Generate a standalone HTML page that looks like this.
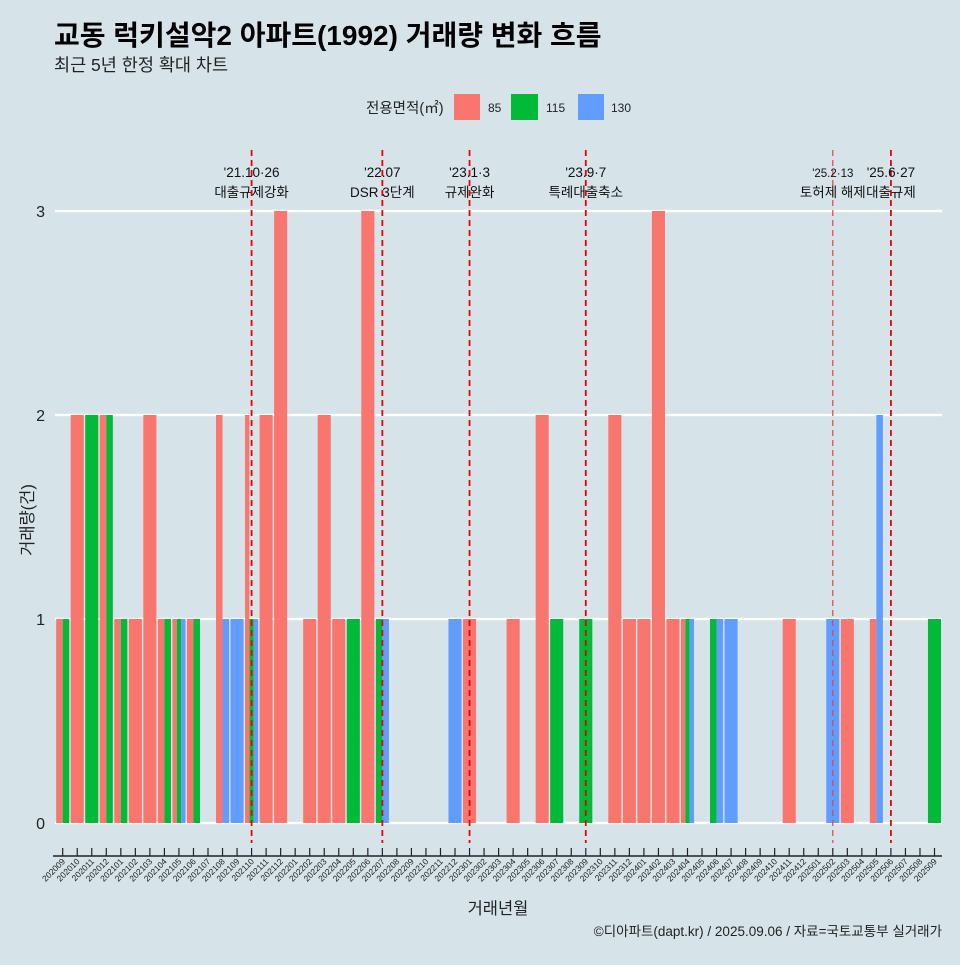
<!DOCTYPE html>
<html><head><meta charset="utf-8"><style>
body{margin:0;background:#d6e4ea;font-family:"Liberation Sans","Noto Sans CJK KR",sans-serif;}
svg text{font-family:"Liberation Sans","Noto Sans CJK KR",sans-serif;}
</style></head><body>
<svg id="chart" width="960" height="960" xmlns="http://www.w3.org/2000/svg">
<rect width="960" height="960" fill="#d6e4ea"/>
<text x="54" y="45" font-size="28" font-weight="bold" fill="#000">교동 럭키설악2 아파트(1992) 거래량 변화 흐름</text>
<text x="54" y="71" font-size="17.5" fill="#222">최근 5년 한정 확대 차트</text>
<g>
<text x="366" y="113" font-size="14.5" fill="#222">전용면적(㎡)</text>
<rect x="454" y="94" width="26" height="26" fill="#F8766D"/>
<text x="488" y="112" font-size="12" fill="#222">85</text>
<rect x="511" y="94" width="27" height="26" fill="#00BA38"/>
<text x="546" y="112" font-size="12" fill="#222">115</text>
<rect x="578" y="94" width="26" height="26" fill="#619CFF"/>
<text x="611" y="112" font-size="12" fill="#222">130</text>
</g>
<g id="grid"></g><g id="bars"></g><g id="events"></g><g id="axes"></g>
<text x="498" y="914" font-size="16.5" text-anchor="middle" fill="#222">거래년월</text>
<text transform="translate(33,520) rotate(-90)" font-size="16.5" text-anchor="middle" fill="#222">거래량(건)</text>
<text x="942" y="936" font-size="13.5" text-anchor="end" fill="#222">©디아파트(dapt.kr) / 2025.09.06 / 자료=국토교통부 실거래가</text>
</svg>
<script>
const months=["202009","202010","202011","202012","202101","202102","202103","202104","202105","202106","202107","202108","202109","202110","202111","202112","202201","202202","202203","202204","202205","202206","202207","202208","202209","202210","202211","202212","202301","202302","202303","202304","202305","202306","202307","202308","202309","202310","202311","202312","202401","202402","202403","202404","202405","202406","202407","202408","202409","202410","202411","202412","202501","202502","202503","202504","202505","202506","202507","202508","202509"];
const v85 =[1,2,0,2,1,1,2,1,1,1,0,2,0,2,2,3,0,1,2,1,0,3,0,0,0,0,0,0,1,0,0,1,0,2,0,0,0,0,2,1,1,3,1,1,0,0,0,0,0,0,1,0,0,0,1,0,1,0,0,0,0];
const v115=[1,0,2,2,1,0,0,1,1,1,0,0,0,1,0,0,0,0,0,0,1,0,1,0,0,0,0,0,0,0,0,0,0,0,1,0,1,0,0,0,0,0,0,1,0,1,0,0,0,0,0,0,0,0,0,0,0,0,0,0,1];
const v130=[0,0,0,0,0,0,0,0,1,0,0,1,1,1,0,0,0,0,0,0,0,0,1,0,0,0,0,1,0,0,0,0,0,0,0,0,0,0,0,0,0,0,0,1,0,1,1,0,0,0,0,0,0,1,0,0,2,0,0,0,0];
const yTicks=[0,1,2,3];
const eventMonths=["202110","202207","202301","202309","202502","202506"];
const eventDates=["'21.10·26","'22.07","'23.1·3","'23.9·7","'25.2·13","'25.6·27"];
const eventNames=["대출규제강화","DSR 3단계","규제완화","특례대출축소","토허제 해제","대출규제"];
const colors=["#F8766D","#00BA38","#619CFF"];
const NS="http://www.w3.org/2000/svg";
const x0=62.7,step=14.53,y0=823,unit=204;
const xs=i=>x0+i*step, ys=v=>y0-v*unit;
function mk(tag,attrs,parent){const e=document.createElementNS(NS,tag);for(const k in attrs)e.setAttribute(k,attrs[k]);parent.appendChild(e);return e;}
const grid=document.getElementById('grid'),bars=document.getElementById('bars'),ev=document.getElementById('events'),ax=document.getElementById('axes');
yTicks.forEach(t=>{
 const l=mk('line',{x1:55,x2:942,y1:ys(t),y2:ys(t),stroke:'#fff','stroke-width':2.2},grid);
 
 
 const tx=mk('text',{x:45,y:ys(t)+6,'font-size':16,'text-anchor':'end',fill:'#222'},ax);
 tx.textContent=t;
 
 
});
const series=[v85,v115,v130],names=['85','115','130'];
months.forEach((m,i)=>{
 const present=[];series.forEach((s,k)=>{if(s[i]>0)present.push(k);});
 const gw=step*0.9,bw=gw/Math.max(present.length,1);
 present.forEach((k,j)=>{
  const val=series[k][i];
  const r=mk('rect',{x:xs(i)-gw/2+j*bw,y:ys(val),width:bw,height:val*unit,fill:colors[k]},bars);
  
  
 });
 const tk=mk('line',{x1:xs(i),x2:xs(i),y1:848,y2:856,stroke:'#222','stroke-width':1.2},ax);
 
 
 const lb=mk('text',{transform:`translate(${xs(i)+3},${862}) rotate(-45)`,'font-size':8.5,'text-anchor':'end',fill:'#222'},ax);
 lb.textContent=m;
 
 
});
const axl=mk('line',{x1:53,x2:942,y1:856,y2:856,stroke:'#222','stroke-width':1.5},ax);


eventMonths.forEach((m,j)=>{
 const x=xs(months.indexOf(m));
 const thin=(m==="202502");
 const l=mk('line',{x1:x,x2:x,y1:150,y2:843,stroke:thin?'#e8413a':'#e00','stroke-width':thin?1.2:1.8,'stroke-dasharray':'6 4'},ev);
 
 
 const t1=mk('text',{x:x,y:177,'font-size':thin?11.5:13.5,'text-anchor':'middle',fill:'#111'},ev);
 t1.textContent=eventDates[j];
 
 
 const t2=mk('text',{x:x,y:197,'font-size':13.5,'text-anchor':'middle',fill:'#111'},ev);
 t2.textContent=eventNames[j];
 
 
});
</script>
</body></html>
